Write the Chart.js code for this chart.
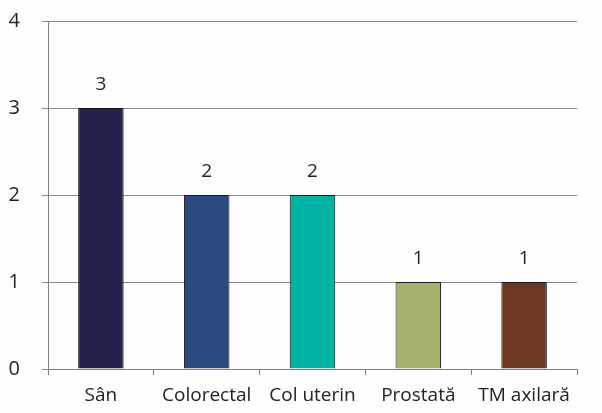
<!DOCTYPE html>
<html>
<head>
<meta charset="utf-8">
<script src="https://cdn.jsdelivr.net/npm/chart.js@4"></script>
<style>
  html, body { margin: 0; padding: 0; background: #fdfdfd; }
  #wrap { width: 602px; height: 413px; }
</style>
</head>
<body>
<div id="wrap"><canvas id="canvas" width="602" height="413"></canvas></div>
<script>
let labels = ["Sân", "Colorectal", "Col uterin", "Prostată", "TM axilară"];
let cases = [3, 2, 2, 1, 1];
let barColors = ["#22224a", "#2b4a80", "#00b3a2", "#a7b06a", "#6c3822"];
let yTicks = [0, 1, 2, 3, 4];

let fontFamily = "'Open Sans', 'Noto Sans', sans-serif";

// writes each value above its bar
let valueLabels = {
  id: "valueLabels",
  afterDatasetsDraw(chart) {
    let ctx = chart.ctx;
    let meta = chart.getDatasetMeta(0);
    ctx.save();
    ctx.font = "19px " + fontFamily;
    ctx.fillStyle = "#222";
    ctx.textAlign = "center";
    ctx.textBaseline = "middle";
    meta.data.forEach((bar, i) => {
      ctx.fillText(String(cases[i]), bar.x, bar.y - 23);
    });
    ctx.restore();
  },
};

let ctx = document.getElementById("canvas").getContext("2d");

let chart = new Chart(ctx, {
  type: "bar",
  data: {
    labels: labels,
    datasets: [
      {
        data: cases,
        backgroundColor: barColors,
        borderColor: "#1a1a1a",
        borderWidth: 1,
        barPercentage: 0.43,
        categoryPercentage: 1,
      },
    ],
  },
  options: {
    responsive: false,
    animation: false,
    layout: {
      padding: { top: 21, right: 25, left: 0, bottom: 0 },
    },
    plugins: {
      legend: { display: false },
      tooltip: { enabled: false },
    },
    scales: {
      x: {
        offset: true,
        grid: {
          offset: true,
          drawOnChartArea: false,
          drawTicks: true,
          tickLength: 6,
          color: "#808080",
        },
        border: { color: "#808080", width: 1 },
        ticks: {
          color: "#222",
          font: { size: 19, family: fontFamily },
          padding: 9,
          maxRotation: 0,
          autoSkip: false,
        },
        afterFit(scale) {
          scale.height = 44;
          scale.paddingLeft = 0;
          scale.paddingRight = 0;
        },
      },
      y: {
        min: 0,
        max: 4,
        afterBuildTicks(scale) {
          scale.ticks = yTicks.map((v) => ({ value: v }));
        },
        grid: {
          color: "#8a8a8a",
          drawTicks: true,
          tickLength: 6,
        },
        border: { color: "#808080", width: 1 },
        ticks: {
          color: "#222",
          font: { size: 20, family: fontFamily },
          padding: 22,
        },
        afterFit(scale) {
          scale.width = 48;
          scale.paddingTop = 0;
          scale.paddingBottom = 0;
        },
      },
    },
  },
  plugins: [valueLabels],
});
</script>
</body>
</html>
